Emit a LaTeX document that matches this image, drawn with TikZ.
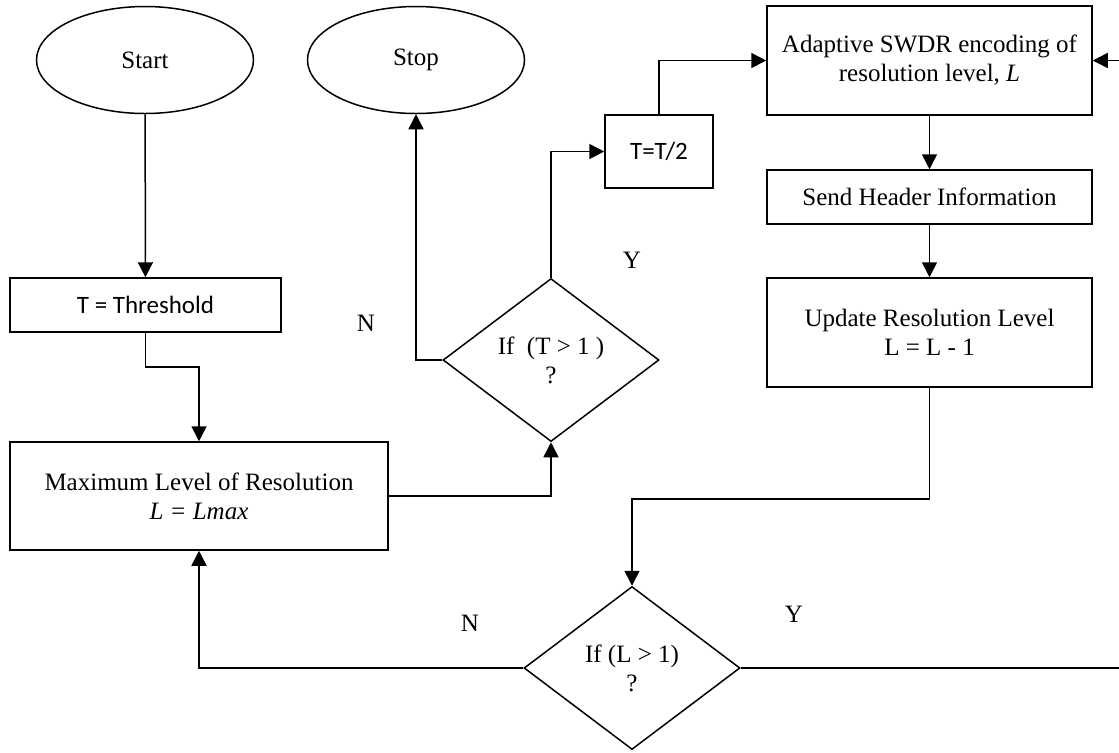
\documentclass[tikz,border=0pt]{standalone}
\usepackage{fontspec}
\setmainfont{Liberation Serif}
\newfontfamily\calfont{Carlito}
\usetikzlibrary{shapes.geometric,arrows.meta}

\tikzset{
  terminal/.style={draw, ellipse, line width=0.75pt, minimum width=108.5pt, minimum height=53.5pt, inner sep=0pt},
  process/.style={draw, rectangle, line width=0.75pt, align=center, inner sep=0pt},
  decision/.style={draw, diamond, line width=0.75pt, align=center, inner sep=0pt, shape aspect=1.33, minimum width=108pt, minimum height=81.5pt},
  flow/.style={line width=0.75pt, -{Triangle[length=7.5pt,width=7.5pt]}},
  branch/.style={font=\fontsize{12.5}{14}\selectfont}
}

\begin{document}
\begin{tikzpicture}[x=0.5pt, y=-0.5pt, font=\fontsize{12.5}{14.5}\selectfont]
    \useasboundingbox (0,0) rectangle (1119,752);

    % Terminals
    \node[terminal] (start) at (145,60) {Start};
    \node[terminal] (stop) at (416,60) {Stop};

    % Steps
    \node[process, minimum width=135.5pt, minimum height=27pt, font=\calfont\fontsize{12.5}{15}\selectfont] (thresh) at (145.5,305) {T = Threshold};
    \node[process, minimum width=189pt, minimum height=54pt] (maxres) at (199,496) {Maximum Level of Resolution\\\textit{L = Lmax}};
    \node[process, minimum width=54pt, minimum height=36.5pt, font=\calfont\fontsize{12.5}{15}\selectfont] (half) at (659,151.5) {T=T/2};
    \node[process, minimum width=162.5pt, minimum height=54.5pt] (adapt) at (929.5,60.5) {Adaptive SWDR encoding of\\resolution level, \textit{L}};
    \node[process, minimum width=162.5pt, minimum height=27pt] (header) at (929.5,197) {Send Header Information};
    \node[process, minimum width=162.5pt, minimum height=54.5pt] (update) at (929.5,332.5) {Update Resolution Level\\L = L - 1};

    % Decisions
    \node[decision] (iftest) at (551,360) {If~~(T > 1~)\\?};
    \node[decision] (iflevel) at (632,668) {If (L > 1)\\?};

    % Branch labels
    \node[branch] (ytest) at (632,260) {Y};
    \node[branch] (ntest) at (366,323) {N};
    \node[branch] (nlevel) at (470,623) {N};
    \node[branch] (ylevel) at (794,614) {Y};

    % Bends
    \coordinate (bendA) at (145.5,367);
    \coordinate (bendB) at (929.5,499);
    \coordinate (rim) at (1121,60.5);

    % Connectors
    \draw[flow] (start) -- (thresh);
    \draw[flow] (thresh.south) -- (bendA) -| (maxres.north);
    \draw[flow] (maxres.east) -| (iftest.south);
    \draw[flow] (iftest.west) -| (stop.south);
    \draw[flow] (iftest.north) |- (half.west);
    \draw[flow] (half.north) |- (adapt.west);
    \draw[flow] (adapt) -- (header);
    \draw[flow] (header) -- (update);
    \draw[flow] (update.south) -- (bendB) -| (iflevel.north);
    \draw[flow] (iflevel.west) -| (maxres.south);
    \draw[flow] (iflevel.east) -| (rim) -- (adapt.east);
\end{tikzpicture}
\end{document}
